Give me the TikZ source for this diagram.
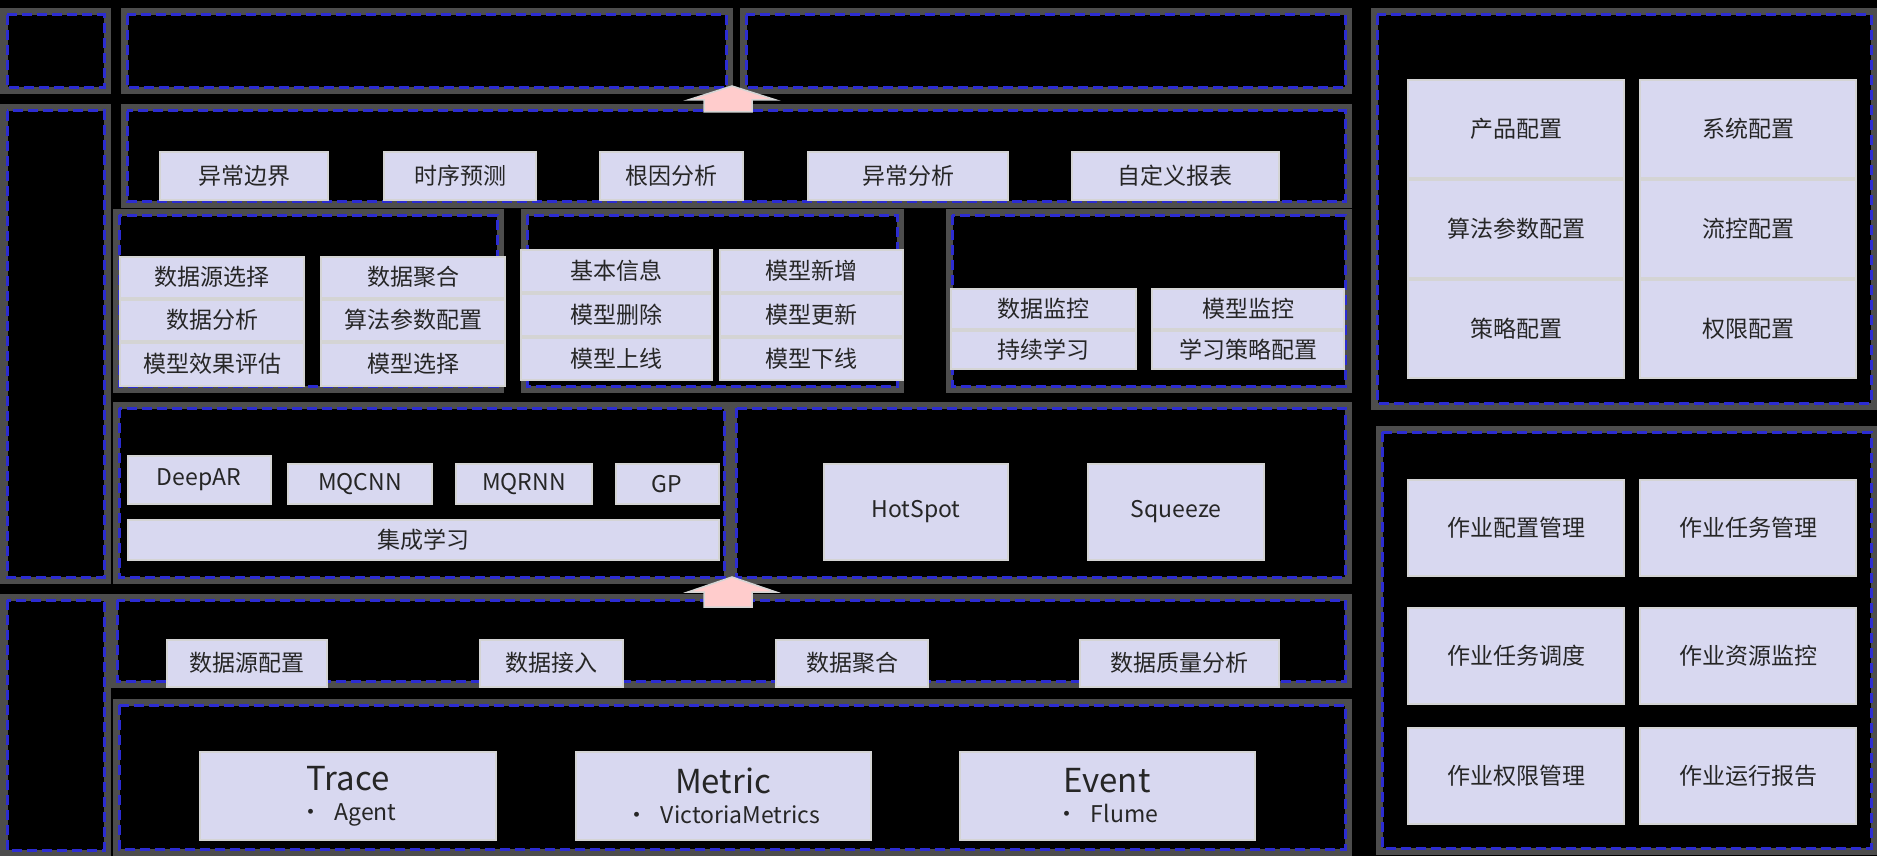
\documentclass[tikz,border=0pt]{standalone}
\usepackage{fontspec}
\setmainfont{Noto Sans CJK SC}
\usetikzlibrary{positioning}
\definecolor{framegray}{HTML}{4D4D4D}
\definecolor{dashblue}{HTML}{2C2CD2}
\definecolor{cellfill}{HTML}{D8D8F0}
\definecolor{celledge}{HTML}{D4D4D4}
\definecolor{arrowpink}{HTML}{FFCCCC}

\begin{document}
\begin{tikzpicture}[x=1pt, y=-1pt,
  frame/.style={draw=framegray, line width=7pt},
  inner/.style={draw=dashblue, line width=3pt, dash pattern=on 10pt off 5pt},
  cell/.style={draw=celledge, line width=2pt, fill=cellfill, inner sep=0pt,
    text=black!85, font=\fontsize{23}{27}\selectfont},
  uparrow/.style={fill=arrowpink, draw=celledge, line width=1.5pt}]

  % Background
  \useasboundingbox (0,0) rectangle (1877,856);
  \fill[black] (0,0) rectangle (1877,856);

  % Left column
  \draw[frame] (4,12) rectangle (107,91);
  \draw[inner] (7,15) rectangle (104,88);
  \draw[frame] (4,108) rectangle (107,580);
  \draw[inner] (7,111) rectangle (104,577);
  \draw[frame] (4,597) rectangle (107,853);
  \draw[inner] (7,600) rectangle (104,850);

  % Top row
  \draw[frame] (124,12) rectangle (729,91);
  \draw[inner] (127,15) rectangle (726,88);
  \draw[frame] (743,12) rectangle (1348,91);
  \draw[inner] (746,15) rectangle (1345,88);

  % Application layer
  \draw[frame] (124,108) rectangle (1348,204);
  \draw[inner] (127,111) rectangle (1345,201);

  % Model layer
  \draw[frame] (116,212) rectangle (500,389);
  \draw[inner] (119,215) rectangle (497,386);
  \draw[frame] (524,212) rectangle (900,389);
  \draw[inner] (527,215) rectangle (897,386);
  \draw[frame] (949,212) rectangle (1348,389);
  \draw[inner] (952,215) rectangle (1345,386);

  % Algorithm layer
  \draw[frame] (116,405) rectangle (727,580);
  \draw[inner] (119,408) rectangle (724,577);
  \draw[frame] (733,405) rectangle (1348,580);
  \draw[inner] (736,408) rectangle (1345,577);

  % Data layer
  \draw[frame] (114,597) rectangle (1348,684);
  \draw[inner] (117,600) rectangle (1345,681);
  \draw[frame] (116,702) rectangle (1348,852);
  \draw[inner] (119,705) rectangle (1345,849);

  % Right column
  \draw[frame] (1374,12) rectangle (1874,406);
  \draw[inner] (1377,15) rectangle (1871,403);
  \draw[frame] (1379,429) rectangle (1874,851);
  \draw[inner] (1382,432) rectangle (1871,848);

  % Application cells
  \node[cell, minimum width=168pt, minimum height=48pt] (anomBound) at (244,176) {异常边界};
  \node[cell, minimum width=152pt, minimum height=48pt] (tsPredict) at (460,176) {时序预测};
  \node[cell, minimum width=143pt, minimum height=48pt] (rootCause) at (671,176) {根因分析};
  \node[cell, minimum width=200pt, minimum height=48pt] (anomAnalysis) at (908,176) {异常分析};
  \node[cell, minimum width=207pt, minimum height=48pt] (customReport) at (1175,176) {自定义报表};

  % Model training cells
  \node[cell, minimum width=184pt, minimum height=41pt] (srcSelect) at (212,277) {数据源选择};
  \node[cell, minimum width=184pt, minimum height=41pt, below=0pt of srcSelect] (dataAnalysis) {数据分析};
  \node[cell, minimum width=184pt, minimum height=43pt, below=0pt of dataAnalysis] (modelEval) {模型效果评估};
  \node[cell, minimum width=184pt, minimum height=41pt] (dataAgg) at (413,277) {数据聚合};
  \node[cell, minimum width=184pt, minimum height=41pt, below=0pt of dataAgg] (algoParam) {算法参数配置};
  \node[cell, minimum width=184pt, minimum height=43pt, below=0pt of algoParam] (modelSelect) {模型选择};

  % Model management cells
  \node[cell, minimum width=191pt, minimum height=42pt] (baseInfo) at (616,271) {基本信息};
  \node[cell, minimum width=191pt, minimum height=42pt, below=0pt of baseInfo] (modelDelete) {模型删除};
  \node[cell, minimum width=191pt, minimum height=42pt, below=0pt of modelDelete] (modelOnline) {模型上线};
  \node[cell, minimum width=183pt, minimum height=42pt] (modelAdd) at (811,271) {模型新增};
  \node[cell, minimum width=183pt, minimum height=42pt, below=0pt of modelAdd] (modelUpdate) {模型更新};
  \node[cell, minimum width=183pt, minimum height=42pt, below=0pt of modelUpdate] (modelOffline) {模型下线};

  % Monitoring cells
  \node[cell, minimum width=185pt, minimum height=40pt] (dataMonitor) at (1043,309) {数据监控};
  \node[cell, minimum width=185pt, minimum height=38pt, below=0pt of dataMonitor] (contLearn) {持续学习};
  \node[cell, minimum width=192pt, minimum height=40pt] (modelMonitor) at (1248,309) {模型监控};
  \node[cell, minimum width=192pt, minimum height=38pt, below=0pt of modelMonitor] (learnPolicy) {学习策略配置};

  % Forecast algorithms
  \node[cell, minimum width=143pt, minimum height=48pt] (deepAR) at (199,480) {DeepAR};
  \node[cell, minimum width=144pt, minimum height=40pt] (mqcnn) at (360,484) {MQCNN};
  \node[cell, minimum width=136pt, minimum height=40pt] (mqrnn) at (524,484) {MQRNN};
  \node[cell, minimum width=103pt, minimum height=40pt] (gp) at (667,484) {GP};
  \node[cell, minimum width=591pt, minimum height=40pt] (ensemble) at (423,540) {集成学习};

  % Root cause algorithms
  \node[cell, minimum width=184pt, minimum height=96pt] (hotSpot) at (916,512) {HotSpot};
  \node[cell, minimum width=176pt, minimum height=96pt] (squeeze) at (1176,512) {Squeeze};

  % Data access cells
  \node[cell, minimum width=160pt, minimum height=47pt] (srcConfig) at (247,663) {数据源配置};
  \node[cell, minimum width=143pt, minimum height=47pt] (dataIngest) at (551,663) {数据接入};
  \node[cell, minimum width=152pt, minimum height=47pt] (dataMerge) at (852,663) {数据聚合};
  \node[cell, minimum width=199pt, minimum height=47pt] (dataQuality) at (1179,663) {数据质量分析};

  % Data sources
  \node[cell, minimum width=296pt, minimum height=88pt, align=center] (trace) at (348,796)
    {{\fontsize{33}{36}\selectfont Trace}\\[3pt]{\fontsize{23}{26}\selectfont •\hspace{12pt}Agent}};
  \node[cell, minimum width=295pt, minimum height=88pt, align=center] (metric) at (723,796)
    {{\fontsize{33}{36}\selectfont Metric}\\[3pt]{\fontsize{23}{26}\selectfont •\hspace{12pt}VictoriaMetrics}};
  \node[cell, minimum width=295pt, minimum height=88pt, align=center] (event) at (1107,796)
    {{\fontsize{33}{36}\selectfont Event}\\[3pt]{\fontsize{23}{26}\selectfont •\hspace{12pt}Flume}};

  % Configuration cells
  \node[cell, minimum width=216pt, minimum height=98pt] (productConf) at (1516,129) {产品配置};
  \node[cell, minimum width=216pt, minimum height=98pt, below=0pt of productConf] (algoConf) {算法参数配置};
  \node[cell, minimum width=216pt, minimum height=98pt, below=0pt of algoConf] (policyConf) {策略配置};
  \node[cell, minimum width=216pt, minimum height=98pt] (systemConf) at (1748,129) {系统配置};
  \node[cell, minimum width=216pt, minimum height=98pt, below=0pt of systemConf] (flowConf) {流控配置};
  \node[cell, minimum width=216pt, minimum height=98pt, below=0pt of flowConf] (authConf) {权限配置};

  % Job cells
  \node[cell, minimum width=216pt, minimum height=96pt] (jobConf) at (1516,528) {作业配置管理};
  \node[cell, minimum width=216pt, minimum height=96pt] (jobTask) at (1748,528) {作业任务管理};
  \node[cell, minimum width=216pt, minimum height=96pt] (jobSched) at (1516,656) {作业任务调度};
  \node[cell, minimum width=216pt, minimum height=96pt] (jobRes) at (1748,656) {作业资源监控};
  \node[cell, minimum width=216pt, minimum height=96pt] (jobAuth) at (1516,776) {作业权限管理};
  \node[cell, minimum width=216pt, minimum height=96pt] (jobReport) at (1748,776) {作业运行报告};

  % Up arrows between layers
  \draw[uparrow] (732,86) -- (776,100) -- (752,100) -- (752,112) -- (704,112)
    -- (704,100) -- (688,100) -- cycle;
  \draw[uparrow] (732,577) -- (776,592) -- (752,592) -- (752,607) -- (704,607)
    -- (704,592) -- (688,592) -- cycle;
\end{tikzpicture}
\end{document}
